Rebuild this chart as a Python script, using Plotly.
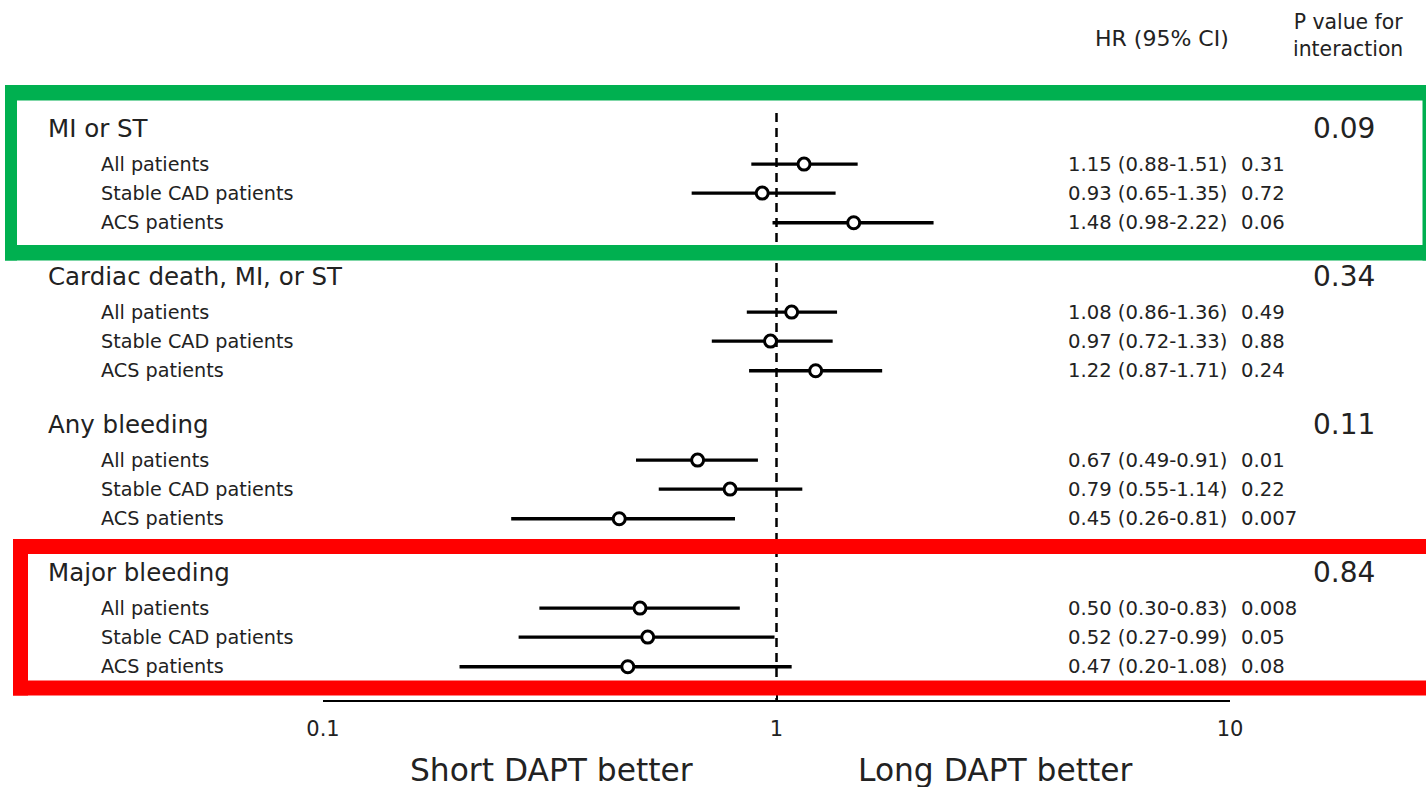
import plotly.graph_objects as go

# ---------------- data ----------------
groups = ["MI or ST", "Cardiac death, MI, or ST", "Any bleeding", "Major bleeding"]
subgroups = ["All patients", "Stable CAD patients", "ACS patients"]
hr = [[1.15, 0.93, 1.48], [1.08, 0.97, 1.22], [0.67, 0.79, 0.45], [0.50, 0.52, 0.47]]
ci_lo = [[0.88, 0.65, 0.98], [0.86, 0.72, 0.87], [0.49, 0.55, 0.26], [0.30, 0.27, 0.20]]
ci_hi = [[1.51, 1.35, 2.22], [1.36, 1.33, 1.71], [0.91, 1.14, 0.81], [0.83, 0.99, 1.08]]
p_sub = [["0.31", "0.72", "0.06"], ["0.49", "0.88", "0.24"],
         ["0.01", "0.22", "0.007"], ["0.008", "0.05", "0.08"]]
p_int = ["0.09", "0.34", "0.11", "0.84"]
tick_vals = [0.1, 1, 10]
tick_text = ["0.1", "1", "10"]

# ---------------- layout helpers ----------------
W, H = 1426, 787
FONT = "DejaVu Sans"
TXT = "#222222"
GROUP_STEP = 5.0
SUB_OFF = [1.22, 2.2, 3.2]
ROW_PX = 29.6
ROW0_PX = 128
AXIS_PX = 700


def px2row(py):
    return (py - ROW0_PX) / ROW_PX


def pxx(px):
    return px / W


def pxy(py):
    return 1 - py / H


fig = go.Figure()

lx, ly = [], []
mx, my = [], []
for g in range(len(groups)):
    for s in range(len(subgroups)):
        r = g * GROUP_STEP + SUB_OFF[s]
        lx += [ci_lo[g][s], ci_hi[g][s], None]
        ly += [r, r, None]
        mx.append(hr[g][s])
        my.append(r)

# reference dashed line at HR = 1
fig.add_trace(go.Scatter(x=[1, 1], y=[px2row(113), px2row(AXIS_PX)], mode="lines",
                         line=dict(color="black", width=2.5, dash="9px,6px"),
                         hoverinfo="skip", showlegend=False))
fig.add_trace(go.Scatter(x=lx, y=ly, mode="lines", line=dict(color="black", width=3.4),
                         hoverinfo="skip", showlegend=False))
fig.add_trace(go.Scatter(x=mx, y=my, mode="markers",
                         marker=dict(symbol="circle", size=12, color="white",
                                     line=dict(color="black", width=3)),
                         showlegend=False))

ann = []
for g in range(len(groups)):
    r0 = g * GROUP_STEP
    ann.append(dict(x=pxx(46), y=r0, xref="paper", yref="y", text=groups[g],
                    xanchor="left", yanchor="middle", showarrow=False,
                    font=dict(family=FONT, size=24.5, color=TXT)))
    ann.append(dict(x=pxx(1344), y=r0, xref="paper", yref="y", text=p_int[g],
                    xanchor="center", yanchor="middle", showarrow=False,
                    font=dict(family=FONT, size=28, color=TXT)))
    for s in range(len(subgroups)):
        r = r0 + SUB_OFF[s]
        ann.append(dict(x=pxx(99), y=r, xref="paper", yref="y", text=subgroups[s],
                        xanchor="left", yanchor="middle", showarrow=False,
                        font=dict(family=FONT, size=19.2, color=TXT)))
        ann.append(dict(x=pxx(1066), y=r, xref="paper", yref="y",
                        text=f"{hr[g][s]:.2f} ({ci_lo[g][s]:.2f}-{ci_hi[g][s]:.2f})",
                        xanchor="left", yanchor="middle", showarrow=False,
                        font=dict(family=FONT, size=19.6, color=TXT)))
        ann.append(dict(x=pxx(1239), y=r, xref="paper", yref="y", text=p_sub[g][s],
                        xanchor="left", yanchor="middle", showarrow=False,
                        font=dict(family=FONT, size=19.6, color=TXT)))

ann.append(dict(x=pxx(1162), y=pxy(38), xref="paper", yref="paper", text="HR (95% CI)",
                xanchor="center", yanchor="middle", showarrow=False,
                font=dict(family=FONT, size=22, color=TXT)))
ann.append(dict(x=pxx(1348), y=pxy(36), xref="paper", yref="paper",
                text="P value for<br>interaction", align="center",
                xanchor="center", yanchor="middle", showarrow=False,
                font=dict(family=FONT, size=20.4, color=TXT)))
ann.append(dict(x=pxx(551), y=pxy(770), xref="paper", yref="paper", text="Short DAPT better",
                xanchor="center", yanchor="middle", showarrow=False,
                font=dict(family=FONT, size=31.3, color=TXT)))
ann.append(dict(x=pxx(995), y=pxy(770), xref="paper", yref="paper", text="Long DAPT better",
                xanchor="center", yanchor="middle", showarrow=False,
                font=dict(family=FONT, size=31.3, color=TXT)))


def bar(x0, y0, x1, y1, color):
    return dict(type="rect", xref="paper", yref="paper",
                x0=pxx(x0), x1=pxx(x1), y0=pxy(y1), y1=pxy(y0),
                line=dict(width=0), fillcolor=color, layer="above")


GREEN = "#00b050"
RED = "#ff0000"
shapes = [
    # green box (right side partly cut at image edge)
    bar(5, 85, W, 100.5, GREEN),
    bar(5, 245, W, 260.5, GREEN),
    bar(5, 85, 17, 260.5, GREEN),
    bar(1422.5, 85, W, 260.5, GREEN),
    # red box (right side runs off the image)
    bar(13, 539, W, 554, RED),
    bar(13, 680.5, W, 695.5, RED),
    bar(13, 539, 28, 695.5, RED),
]

fig.update_layout(
    width=W, height=H,
    margin=dict(l=0, r=0, t=0, b=0, pad=0, autoexpand=False),
    paper_bgcolor="white", plot_bgcolor="white",
    showlegend=False,
    annotations=ann,
    shapes=shapes,
    xaxis=dict(type="log", range=[-1, 1], domain=[pxx(323), pxx(1230)],
               showgrid=False, zeroline=False, showline=True, linecolor="black",
               linewidth=2, ticks="inside", ticklen=6, tickwidth=2, tickcolor="black",
               tickvals=tick_vals, ticktext=tick_text, ticklabelstandoff=9,
               automargin=False,
               tickfont=dict(family=FONT, size=21, color=TXT)),
    yaxis=dict(range=[px2row(AXIS_PX), px2row(0)], domain=[1 - AXIS_PX / H, 1],
               visible=False, showgrid=False, zeroline=False, automargin=False),
)

fig.write_html("out.html")
